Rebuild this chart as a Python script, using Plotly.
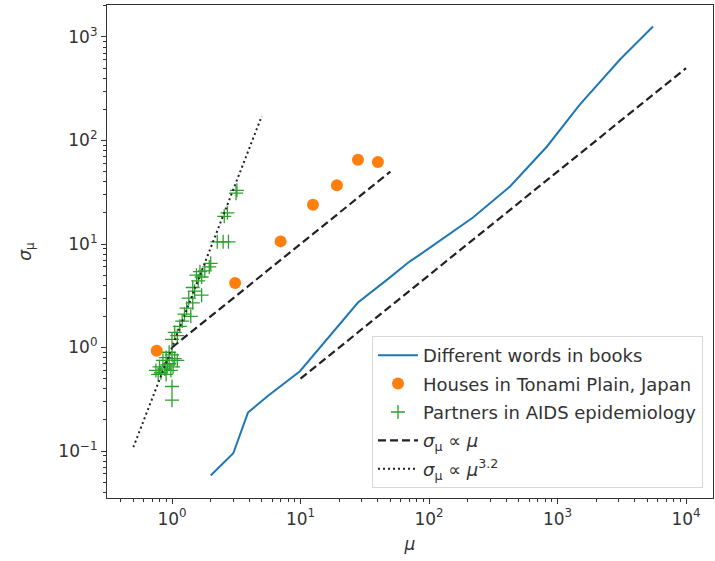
import numpy as np
import plotly.graph_objects as go

# ---- data ----
words_mu = [2.0, 3.0, 3.9, 5.5, 9.9, 17.9, 28, 47, 71, 85, 220, 427, 828, 1496, 3063, 5537]
words_sigma = [0.058, 0.095, 0.235, 0.336, 0.59, 1.4, 2.72, 4.5, 6.8, 7.9, 18, 36, 87.5, 223, 606, 1263]

houses_mu = [0.76, 3.1, 7.0, 12.5, 19.2, 28, 40]
houses_sigma = [0.93, 4.2, 10.6, 24, 37, 65, 62]

aids_mu = [3.2, 3.15, 2.7, 2.55, 2.25, 2.5, 2.75, 2.0, 1.95, 1.8, 1.65, 1.55, 1.7, 1.6,
           1.45, 1.5, 1.7, 1.35, 1.45, 1.3, 1.25, 1.4, 1.2, 1.15, 1.05, 1.1, 1.0, 0.95,
           1.0, 0.9, 1.05, 0.85, 0.95, 0.8, 0.88, 0.98, 0.75, 0.82, 0.9, 1.02, 0.78,
           1.0, 1.0, 0.92, 1.1]
aids_sigma = [33, 31, 20, 18.5, 10.5, 10.5, 10.5, 6.5, 6.0, 5.5, 5.4, 5.0, 4.8, 4.4,
              3.8, 3.5, 3.2, 3.0, 2.7, 2.4, 2.1, 2.0, 1.8, 1.6, 1.4, 1.3, 1.2, 0.9,
              0.85, 0.8, 0.78, 0.75, 0.7, 0.65, 0.62, 0.6, 0.6, 0.57, 0.55, 0.65, 0.55,
              0.42, 0.31, 0.68, 0.75]

lin1_mu = [1, 50]
lin1_coef = 1.0
lin2_mu = [10, 10000]
lin2_coef = 0.05
pow_mu = [0.5, 5]
pow_exp = 3.2

x_tick_exps = [0, 1, 2, 3, 4]
y_tick_exps = [-1, 0, 1, 2, 3]


def sup_label(e):
    s = str(e).replace("-", "\u2212")
    return f"10<sup>{s}</sup>"


def minor_vals(lo, hi):
    vals = []
    for k in range(lo, hi + 1):
        for d in range(2, 10):
            vals.append(d * 10.0 ** k)
    return vals


DASH = "8px,4px"
DARK = "#222222"

fig = go.Figure()

fig.add_trace(go.Scatter(
    x=words_mu, y=words_sigma, mode="lines", name="Different words in books",
    legendgroup="g1", line=dict(color="#1f77b4", width=2)))

fig.add_trace(go.Scatter(
    x=houses_mu, y=houses_sigma, mode="markers", name="Houses in Tonami Plain, Japan",
    legendgroup="g2", marker=dict(color="#ff7f0e", size=12, symbol="circle", line=dict(width=0))))

fig.add_trace(go.Scatter(
    x=aids_mu, y=aids_sigma, mode="markers", name="Partners in AIDS epidemiology",
    legendgroup="g3",
    marker=dict(symbol="cross-thin", size=10, color="#2ca02c",
                line=dict(color="#2ca02c", width=1.3))))

l1x = np.array(lin1_mu, dtype=float)
l2x = np.array(lin2_mu, dtype=float)
fig.add_trace(go.Scatter(
    x=l1x, y=lin1_coef * l1x, mode="lines", name="<i>σ</i><sub>μ</sub> ∝ <i>μ</i>",
    legendgroup="g4", line=dict(color=DARK, width=2.2, dash=DASH)))
fig.add_trace(go.Scatter(
    x=l2x, y=lin2_coef * l2x, mode="lines", showlegend=False, legendgroup="g4",
    line=dict(color=DARK, width=2.2, dash=DASH)))

px_ = np.logspace(np.log10(pow_mu[0]), np.log10(pow_mu[1]), 50)
fig.add_trace(go.Scatter(
    x=px_, y=px_ ** pow_exp, mode="lines", name="<i>σ</i><sub>μ</sub> ∝ <i>μ</i><sup>3.2</sup>",
    legendgroup="g5", line=dict(color=DARK, width=2, dash="2px,3px")))

axis_common = dict(
    type="log", showgrid=False, zeroline=False, showline=True, mirror=True,
    linecolor="#333333", linewidth=1.2, ticks="outside", ticklen=5,
    tickcolor="#333333", tickfont=dict(size=17, color="#333333"),
    automargin=False,
)

fig.update_xaxes(
    **axis_common,
    range=[np.log10(0.312), 4.21],
    tickvals=[10.0 ** e for e in x_tick_exps],
    ticktext=[sup_label(e) for e in x_tick_exps],
    minor=dict(tickvals=minor_vals(-1, 4), ticks="outside", ticklen=2.5, tickcolor="#333333"),
    title=dict(text="<i>μ</i>", font=dict(size=17, color="#333333"), standoff=10),
)
fig.update_yaxes(
    **axis_common,
    range=[-1.454, 3.309],
    tickvals=[10.0 ** e for e in y_tick_exps],
    ticktext=[sup_label(e) for e in y_tick_exps],
    minor=dict(tickvals=minor_vals(-2, 3), ticks="outside", ticklen=2.5, tickcolor="#333333"),
    title=dict(text="<i>σ</i><sub>μ</sub>", font=dict(size=17, color="#333333"), standoff=22),
)

fig.update_layout(
    width=715, height=561,
    margin=dict(l=107, r=2, t=5, b=63),
    paper_bgcolor="white", plot_bgcolor="white",
    font=dict(family="DejaVu Sans", color="#333333"),
    legend=dict(
        x=0.9835, y=0.0203, xanchor="right", yanchor="bottom",
        bgcolor="rgba(255,255,255,0.85)", bordercolor="#d8d8d8", borderwidth=1,
        font=dict(size=18, color="#333333"), itemwidth=40, tracegroupgap=2,
    ),
)

fig.write_html("out.html", config={"displayModeBar": False},
               post_script="document.body.style.margin='0';")
